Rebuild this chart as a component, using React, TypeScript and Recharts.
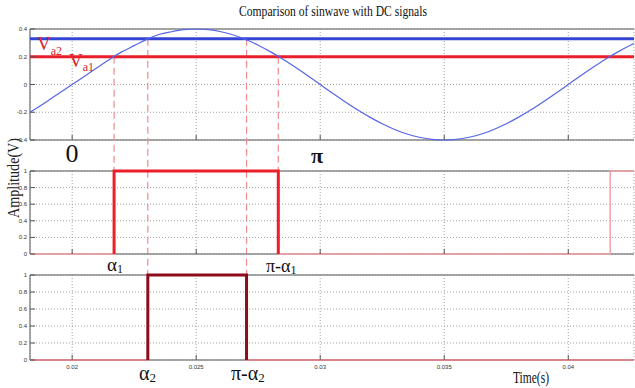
import React from "react";
import {
	LineChart,
	Line,
	XAxis,
	YAxis,
	CartesianGrid,
	ReferenceLine,
} from "recharts";

// time axis
const timeDomain: [number, number] = [0.0183, 0.04265];
const timeTicks = [0.02, 0.025, 0.03, 0.035, 0.04];

// top panel: sinewave vs two DC levels
const sineTicks = [-0.4, -0.2, 0, 0.2, 0.4];
const sineTime = [
	0.0183, 0.019, 0.0195, 0.02, 0.0205, 0.021, 0.0215, 0.022, 0.0225, 0.023,
	0.0235, 0.024, 0.0245, 0.025, 0.0255, 0.026, 0.0265, 0.027, 0.0275, 0.028,
	0.0285, 0.029, 0.0295, 0.03, 0.0305, 0.031, 0.0315, 0.032, 0.0325, 0.033,
	0.0335, 0.034, 0.0345, 0.035, 0.0355, 0.036, 0.0365, 0.037, 0.0375, 0.038,
	0.0385, 0.039, 0.0395, 0.04, 0.0405, 0.041, 0.0415, 0.042, 0.0425, 0.04265,
];
const sineVolts = [
	-0.2, -0.12, -0.06, 0, 0.06, 0.12, 0.18, 0.235, 0.28, 0.325,
	0.36, 0.38, 0.395, 0.4, 0.395, 0.38, 0.357, 0.324, 0.283, 0.235,
	0.182, 0.124, 0.063, 0, -0.063, -0.124, -0.182, -0.235, -0.283, -0.324,
	-0.357, -0.38, -0.395, -0.4, -0.395, -0.38, -0.357, -0.324, -0.283, -0.235,
	-0.182, -0.124, -0.063, 0, 0.063, 0.124, 0.182, 0.235, 0.283, 0.296,
];
const va2Level = 0.33;
const va1Level = 0.2;

// switching instants
const alpha1 = 0.02169;
const piMinusAlpha1 = 0.02831;
const alpha2 = 0.02305;
const piMinusAlpha2 = 0.02703;
const alpha1Next = 0.04169;

// pulse panels
const pulseTicks = [0, 0.2, 0.4, 0.6, 0.8, 1];
const pulse1Time = [timeDomain[0], alpha1, alpha1, piMinusAlpha1, piMinusAlpha1, alpha1Next, alpha1Next, timeDomain[1]];
const pulse1Level = [0, 0, 1, 1, 0, 0, 1, 1];
const pulse1HighTime = [alpha1, alpha1, piMinusAlpha1, piMinusAlpha1];
const pulse2Time = [timeDomain[0], alpha2, alpha2, piMinusAlpha2, piMinusAlpha2, timeDomain[1]];
const pulse2Level = [0, 0, 1, 1, 0, 0];
const pulse2HighTime = [alpha2, alpha2, piMinusAlpha2, piMinusAlpha2];
const pulseHighLevel = [0, 1, 1, 0];

// where the dashed guides stop, in top-panel volts (below its own range)
const dropToMiddle = -0.623;
const dropToBottom = -1.373;

const toRows = (ts: number[], vs: number[]) => ts.map((t, i) => ({ t, v: vs[i] }));

const sineData = toRows(sineTime, sineVolts);
const pulse1Data = toRows(pulse1Time, pulse1Level);
const pulse1High = toRows(pulse1HighTime, pulseHighLevel);
const pulse2Data = toRows(pulse2Time, pulse2Level);
const pulse2High = toRows(pulse2HighTime, pulseHighLevel);

const W = 635;
const H = 388;
const tickFont = { fontSize: 6, fill: "#333", fontFamily: "Liberation Sans Narrow, Liberation Sans, sans-serif" };
const frame = "#8a8a8a";
const guide = "#f08c8c";

const fmtTime = (t: number) => String(t);
const fmtVal = (v: number) => String(Math.round(v * 10) / 10);

const BottomTick = (showLabel: boolean) => (props: any) => {
	const { x, y, payload } = props;
	return (
		<g>
			<line x1={x} x2={x} y1={y} y2={y - 5} stroke="#555" />
			{showLabel && (
				<text x={x} y={y + 9} textAnchor="middle" {...tickFont}>
					{fmtTime(payload.value)}
				</text>
			)}
		</g>
	);
};

const TopTick = (props: any) => {
	const { x, y } = props;
	return <line x1={x} x2={x} y1={y} y2={y + 5} stroke="#555" />;
};

const LeftTick = (props: any) => {
	const { x, y, payload } = props;
	return (
		<g>
			<line x1={x} x2={x + 5} y1={y} y2={y} stroke="#555" />
			<text x={x - 3} y={y + 2} textAnchor="end" {...tickFont}>
				{fmtVal(payload.value)}
			</text>
		</g>
	);
};

const RightTick = (props: any) => {
	const { x, y } = props;
	return <line x1={x - 6} x2={x} y1={y} y2={y} stroke="#555" />;
};

type PanelProps = {
	top: number;
	bottom: number;
	yDomain: [number, number];
	yTicks: number[];
	timeLabels?: boolean;
	children?: React.ReactNode;
};

// axes are 1px wide/high so they still draw their ticks; margins absorb that pixel
const Panel = ({ top, bottom, yDomain, yTicks, timeLabels, children }: PanelProps) => (
	<div style={{ position: "absolute", left: 0, top: 0 }}>
		<LineChart width={W} height={H} margin={{ top: top - 1, right: 0, bottom: H - bottom - 1, left: 29 }}>
			<CartesianGrid stroke="#a0a0a0" strokeDasharray="1 2" />
			<XAxis
				dataKey="t"
				type="number"
				domain={timeDomain}
				ticks={timeTicks}
				interval={0}
				height={1}
				tickSize={0}
				tickMargin={0}
				axisLine={false}
				tickLine={false}
				tick={BottomTick(!!timeLabels)}
			/>
			<XAxis
				xAxisId="top"
				orientation="top"
				dataKey="t"
				type="number"
				domain={timeDomain}
				ticks={timeTicks}
				interval={0}
				height={1}
				tickSize={0}
				tickMargin={0}
				axisLine={false}
				tickLine={false}
				tick={TopTick}
			/>
			<YAxis
				type="number"
				domain={yDomain}
				ticks={yTicks}
				interval={0}
				width={1}
				tickSize={0}
				tickMargin={0}
				axisLine={false}
				tickLine={false}
				tick={LeftTick}
			/>
			<YAxis
				yAxisId="right"
				orientation="right"
				type="number"
				domain={yDomain}
				ticks={yTicks}
				interval={0}
				width={1}
				tickSize={0}
				tickMargin={0}
				axisLine={false}
				tickLine={false}
				tick={RightTick}
			/>
			<ReferenceLine y={yDomain[1]} stroke={frame} strokeWidth={1.5} />
			<ReferenceLine y={yDomain[0]} stroke={frame} strokeWidth={1.5} />
			<ReferenceLine x={timeDomain[0]} stroke={frame} strokeWidth={1.5} />
			{children}
		</LineChart>
	</div>
);

const guideLine = (t: number, from: number, to: number) => (
	<ReferenceLine
		key={`${t}-${to}`}
		segment={[{ x: t, y: from }, { x: t, y: to }]}
		ifOverflow="visible"
		stroke={guide}
		strokeWidth={1.2}
		strokeDasharray="7 4"
	/>
);

const serif = "Liberation Serif, Times New Roman, serif";
const red = "#d8262c";

const Labels = () => (
	<svg width={W} height={H} style={{ position: "absolute", left: 0, top: 0, pointerEvents: "none" }}>
		<text x={333} y={16} textAnchor="middle" fontFamily={serif} fontSize={15} textLength={188} lengthAdjust="spacingAndGlyphs" fill="#111">
			Comparison of sinwave with DC signals
		</text>
		<text transform="translate(19,178) rotate(-90)" textAnchor="middle" fontFamily={serif} fontSize={16} textLength={80} lengthAdjust="spacingAndGlyphs" fill="#222">
			Amplitude(V)
		</text>
		<text x={37} y={50} fontFamily={serif} fontSize={19} fill={red}>
			V<tspan fontSize={12} dy={5}>a2</tspan>
		</text>
		<text x={69} y={67} fontFamily={serif} fontSize={19} fill={red}>
			V<tspan fontSize={12} dy={4}>a1</tspan>
		</text>
		<text x={72} y={162} textAnchor="middle" fontFamily={serif} fontSize={26} fill="#111">
			0
		</text>
		<text x={317} y={163} textAnchor="middle" fontFamily={serif} fontSize={22} fontWeight="bold" fill="#111">
			π
		</text>
		<text x={107} y={271} fontFamily={serif} fontSize={19} fill="#111">
			α<tspan fontSize={12} dy={2}>1</tspan>
		</text>
		<text x={266} y={272} fontFamily={serif} fontSize={18} fill="#111">
			π-α<tspan fontSize={12} dy={2}>1</tspan>
		</text>
		<text x={139} y={380} fontFamily={serif} fontSize={20} fill="#111">
			α<tspan fontSize={13} dy={2}>2</tspan>
		</text>
		<text x={231} y={380} fontFamily={serif} fontSize={20} fill="#111">
			π-α<tspan fontSize={13} dy={2}>2</tspan>
		</text>
		<text x={513} y={383} fontFamily={serif} fontSize={16} textLength={36} lengthAdjust="spacingAndGlyphs" fill="#111">
			Time(s)
		</text>
	</svg>
);

export default function App() {
	return (
		<div style={{ position: "absolute", left: 0, top: 0, width: W, height: H, background: "#fff" }}>
			<Panel top={29} bottom={140} yDomain={[-0.4, 0.4]} yTicks={sineTicks}>
				{guideLine(alpha1, va1Level, dropToMiddle)}
				{guideLine(piMinusAlpha1, va1Level, dropToMiddle)}
				{guideLine(alpha2, va2Level, dropToBottom)}
				{guideLine(piMinusAlpha2, va2Level, dropToBottom)}
				<ReferenceLine y={va2Level} stroke="#3444d4" strokeWidth={3} />
				<ReferenceLine y={va1Level} stroke="#ea1f2a" strokeWidth={3} />
				<Line data={sineData} dataKey="v" type="monotone" stroke="#5566e6" strokeWidth={1.2} dot={false} isAnimationActive={false} />
			</Panel>
			<Panel top={171} bottom={254} yDomain={[0, 1]} yTicks={pulseTicks}>
				<Line data={pulse1Data} dataKey="v" type="linear" stroke="#f6a2a6" strokeWidth={1.5} dot={false} isAnimationActive={false} />
				<Line data={pulse1High} dataKey="v" type="linear" stroke="#ea1f2a" strokeWidth={3} dot={false} isAnimationActive={false} />
			</Panel>
			<Panel top={275} bottom={360} yDomain={[0, 1]} yTicks={pulseTicks} timeLabels>
				<Line data={pulse2Data} dataKey="v" type="linear" stroke="#ec7a82" strokeWidth={1.5} dot={false} isAnimationActive={false} />
				<Line data={pulse2High} dataKey="v" type="linear" stroke="#8c0c1c" strokeWidth={3} dot={false} isAnimationActive={false} />
			</Panel>
			<Labels />
		</div>
	);
}
